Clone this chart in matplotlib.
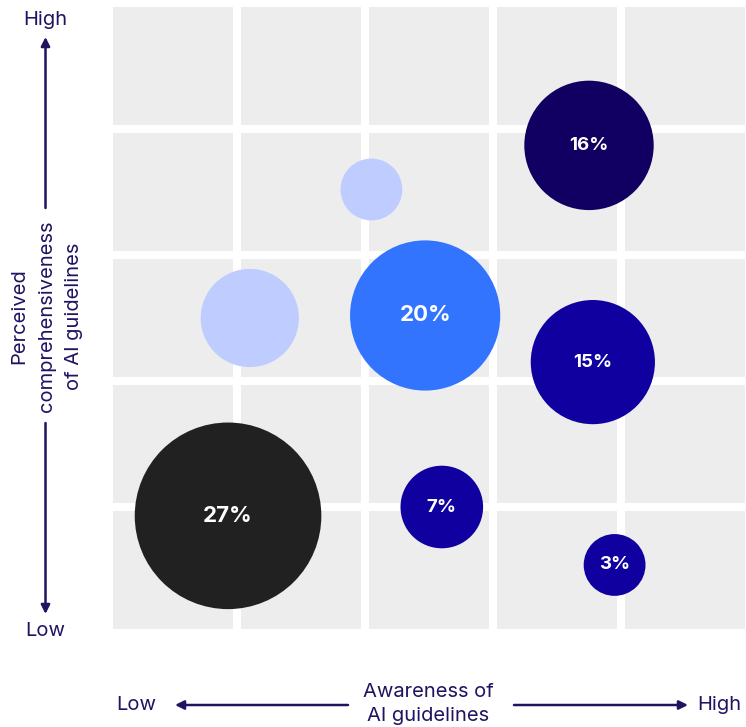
import matplotlib
matplotlib.use("Agg")
import matplotlib.pyplot as plt

plt.rcParams['font.family'] = ['Inter', 'DejaVu Sans']

# Segment bubbles: position on the 5x5 grid (awareness, comprehensiveness) and share
segments = ["A", "B", "C", "D", "E", "F", "G", "H"]
awareness = [0.93, 2.60, 3.95, 2.47, 3.78, 3.75, 1.10, 2.05]
comprehensiveness = [0.93, 1.00, 0.54, 2.52, 2.15, 3.87, 2.50, 3.52]
share = [27, 7, 3, 20, 15, 16, 10, 3]
labelled = [True, True, True, True, True, True, False, False]
colors = ["#212121", "#10009F", "#10009F", "#3374FF", "#10009F", "#110061",
          "#BECCFF", "#BECCFF"]

x_label_lines = ["Awareness of", "AI guidelines"]
y_label_lines = ["Perceived", "comprehensiveness", "of AI guidelines"]
low_text, high_text = "Low", "High"

DPI = 100
W, H = 746, 727
INK = "#1E1462"
GRID_BG = "#EDEDED"

fig = plt.figure(figsize=(W / DPI, H / DPI), dpi=DPI)
fig.patch.set_facecolor("white")

# plot area in pixels
left_px, right_px, top_px, bottom_px = 113, 745, 7, 629
ax = fig.add_axes([left_px / W, (H - bottom_px) / H,
                   (right_px - left_px) / W, (bottom_px - top_px) / H])
ax.set_facecolor(GRID_BG)
gap = 8  # white gutter width in px
xg = gap / 128 / 2
yg = gap / 126 / 2
ax.set_xlim(xg, 5 - xg)
ax.set_ylim(yg, 5 - yg)
for k in range(1, 5):
    ax.axvline(k, color="white", lw=gap * 72 / DPI, zorder=1)
    ax.axhline(k, color="white", lw=gap * 72 / DPI, zorder=1)
for s in ax.spines.values():
    s.set_visible(False)
ax.set_xticks([])
ax.set_yticks([])


def radius_px(v):
    return 23.1 + 2.6 * v


sizes = [(2 * radius_px(v) * 72 / DPI) ** 2 for v in share]
ax.scatter(awareness, comprehensiveness, s=sizes, c=colors, linewidths=0,
           zorder=3, clip_on=False)

for xa, ya, v, lab in zip(awareness, comprehensiveness, share, labelled):
    if not lab:
        continue
    fs = 16 if radius_px(v) > 70 else 13.5
    ax.text(xa, ya, f"{v}%", color="white", fontsize=fs, fontweight="bold",
            ha="center", va="center", zorder=4)


def fx(px):
    return px / W


def fy(py):
    return 1 - py / H


arrow_kw = dict(arrowstyle="-|>", color=INK, lw=1.8, mutation_scale=13,
                shrinkA=0, shrinkB=0)

# vertical axis arrows
fig.add_artist(matplotlib.patches.FancyArrowPatch(
    (fx(45.5), fy(208)), (fx(45.5), fy(37)), transform=fig.transFigure, **arrow_kw))
fig.add_artist(matplotlib.patches.FancyArrowPatch(
    (fx(45.5), fy(423)), (fx(45.5), fy(614)), transform=fig.transFigure, **arrow_kw))
# horizontal axis arrows
fig.add_artist(matplotlib.patches.FancyArrowPatch(
    (fx(348), fy(705)), (fx(175), fy(705)), transform=fig.transFigure, **arrow_kw))
fig.add_artist(matplotlib.patches.FancyArrowPatch(
    (fx(514), fy(705)), (fx(688), fy(705)), transform=fig.transFigure, **arrow_kw))

tfs = 14.5
fig.text(fx(45), fy(20), high_text, color=INK, fontsize=tfs, ha="center", va="center")
fig.text(fx(45), fy(631), low_text, color=INK, fontsize=tfs, ha="center", va="center")
fig.text(fx(136), fy(705), low_text, color=INK, fontsize=tfs, ha="center", va="center")
fig.text(fx(719), fy(705), high_text, color=INK, fontsize=tfs, ha="center", va="center")

fig.text(fx(428), fy(692), x_label_lines[0], color=INK, fontsize=tfs, ha="center", va="center")
fig.text(fx(428), fy(716), x_label_lines[1], color=INK, fontsize=tfs, ha="center", va="center")

for xp, line in zip([19, 47, 74], y_label_lines):
    fig.text(fx(xp), fy(316), line, color=INK, fontsize=tfs, ha="center", va="center",
             rotation=90)

fig.savefig("out.png", dpi=DPI)
